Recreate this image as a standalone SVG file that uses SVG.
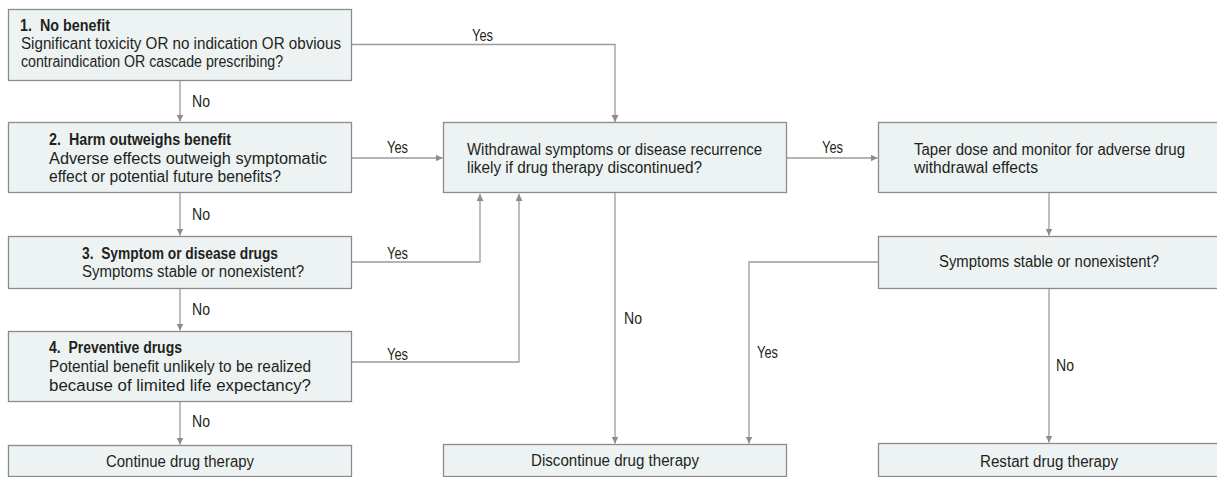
<svg xmlns="http://www.w3.org/2000/svg" width="1217" height="477" viewBox="0 0 1217 477">
<style>
.box{fill:#edf3f3;stroke:#8c8c8c;stroke-width:1.3}
.t{font-family:"Liberation Sans",Arial,sans-serif;font-size:16px;fill:#231f20}
.b{font-weight:bold}
.c{fill:none;stroke:#9b9b9b;stroke-width:1.3}
</style>
<defs>
<marker id="ah" markerUnits="userSpaceOnUse" markerWidth="8" markerHeight="8" refX="7" refY="3.5" orient="auto">
<path d="M0,0 L7,3.5 L0,7 Z" fill="#8c8c8c"/>
</marker>
</defs>
<rect width="1217" height="477" fill="#ffffff"/>
<g id="connectors">
<path class="c" d="M351.5,44.5 H615 V122" marker-end="url(#ah)"/>
<path class="c" d="M180,80.5 V121.5" marker-end="url(#ah)"/>
<path class="c" d="M351.5,158 H442.5" marker-end="url(#ah)"/>
<path class="c" d="M180,192.5 V235.5" marker-end="url(#ah)"/>
<path class="c" d="M351.5,262 H480 V194" marker-end="url(#ah)"/>
<path class="c" d="M180,288.5 V330.5" marker-end="url(#ah)"/>
<path class="c" d="M351.5,362 H519 V194" marker-end="url(#ah)"/>
<path class="c" d="M180,401.5 V444.5" marker-end="url(#ah)"/>
<path class="c" d="M786.5,158 H877.5" marker-end="url(#ah)"/>
<path class="c" d="M615,192.5 V443.5" marker-end="url(#ah)"/>
<path class="c" d="M1049,192.5 V235.5" marker-end="url(#ah)"/>
<path class="c" d="M878.5,262 H749 V443.5" marker-end="url(#ah)"/>
<path class="c" d="M1049,288.5 V442.5" marker-end="url(#ah)"/>
<text class="t" x="472" y="40.5" textLength="21" lengthAdjust="spacingAndGlyphs">Yes</text>
<text class="t" x="192" y="106.5" textLength="18" lengthAdjust="spacingAndGlyphs">No</text>
<text class="t" x="387" y="153" textLength="21" lengthAdjust="spacingAndGlyphs">Yes</text>
<text class="t" x="192" y="220" textLength="18" lengthAdjust="spacingAndGlyphs">No</text>
<text class="t" x="387" y="259" textLength="21" lengthAdjust="spacingAndGlyphs">Yes</text>
<text class="t" x="192" y="315" textLength="18" lengthAdjust="spacingAndGlyphs">No</text>
<text class="t" x="387" y="360" textLength="21" lengthAdjust="spacingAndGlyphs">Yes</text>
<text class="t" x="192" y="427" textLength="18" lengthAdjust="spacingAndGlyphs">No</text>
<text class="t" x="822" y="153" textLength="21" lengthAdjust="spacingAndGlyphs">Yes</text>
<text class="t" x="624" y="324" textLength="18" lengthAdjust="spacingAndGlyphs">No</text>
<text class="t" x="757" y="358" textLength="21" lengthAdjust="spacingAndGlyphs">Yes</text>
<text class="t" x="1056" y="371" textLength="18" lengthAdjust="spacingAndGlyphs">No</text>
</g>
<g id="node-1">
<rect class="box" x="8.5" y="9.5" width="343" height="71"/>
<text class="t b" x="20" y="30.5" textLength="90" lengthAdjust="spacingAndGlyphs" xml:space="preserve">1.  No benefit</text>
<text class="t" x="21" y="48.5" textLength="320" lengthAdjust="spacingAndGlyphs">Significant toxicity OR no indication OR obvious</text>
<text class="t" x="21" y="67" textLength="262" lengthAdjust="spacingAndGlyphs">contraindication OR cascade prescribing?</text>
</g>
<g id="node-2">
<rect class="box" x="8.5" y="122.5" width="343" height="70"/>
<text class="t b" x="49" y="145" textLength="182" lengthAdjust="spacingAndGlyphs" xml:space="preserve">2.  Harm outweighs benefit</text>
<text class="t" x="49" y="163.5" textLength="278" lengthAdjust="spacingAndGlyphs">Adverse effects outweigh symptomatic</text>
<text class="t" x="49" y="182" textLength="232" lengthAdjust="spacingAndGlyphs">effect or potential future benefits?</text>
</g>
<g id="node-3">
<rect class="box" x="8.5" y="236.5" width="343" height="52"/>
<text class="t b" x="82" y="258.5" textLength="196" lengthAdjust="spacingAndGlyphs" xml:space="preserve">3.  Symptom or disease drugs</text>
<text class="t" x="82" y="277" textLength="222" lengthAdjust="spacingAndGlyphs">Symptoms stable or nonexistent?</text>
</g>
<g id="node-4">
<rect class="box" x="8.5" y="331.5" width="343" height="70"/>
<text class="t b" x="49" y="352.5" textLength="133" lengthAdjust="spacingAndGlyphs" xml:space="preserve">4.  Preventive drugs</text>
<text class="t" x="49" y="372" textLength="262" lengthAdjust="spacingAndGlyphs">Potential benefit unlikely to be realized</text>
<text class="t" x="49" y="390.5" textLength="262" lengthAdjust="spacingAndGlyphs">because of limited life expectancy?</text>
</g>
<g id="node-continue">
<rect class="box" x="8.5" y="445.5" width="343" height="31"/>
<text class="t" x="106" y="466.5" textLength="148" lengthAdjust="spacingAndGlyphs">Continue drug therapy</text>
</g>
<g id="node-withdrawal">
<rect class="box" x="443.5" y="122.5" width="343" height="70"/>
<text class="t" x="467" y="155" textLength="295" lengthAdjust="spacingAndGlyphs">Withdrawal symptoms or disease recurrence</text>
<text class="t" x="467" y="173" textLength="235" lengthAdjust="spacingAndGlyphs">likely if drug therapy discontinued?</text>
</g>
<g id="node-discontinue">
<rect class="box" x="443.5" y="444.5" width="343" height="32"/>
<text class="t" x="531" y="465.5" textLength="168" lengthAdjust="spacingAndGlyphs">Discontinue drug therapy</text>
</g>
<g id="node-taper">
<rect class="box" x="878.5" y="122.5" width="345" height="70"/>
<text class="t" x="914" y="155" textLength="271" lengthAdjust="spacingAndGlyphs">Taper dose and monitor for adverse drug</text>
<text class="t" x="914" y="173" textLength="124" lengthAdjust="spacingAndGlyphs">withdrawal effects</text>
</g>
<g id="node-symptoms">
<rect class="box" x="878.5" y="236.5" width="345" height="52"/>
<text class="t" x="939" y="267" textLength="220" lengthAdjust="spacingAndGlyphs">Symptoms stable or nonexistent?</text>
</g>
<g id="node-restart">
<rect class="box" x="878.5" y="443.5" width="345" height="33"/>
<text class="t" x="980" y="466.5" textLength="138" lengthAdjust="spacingAndGlyphs">Restart drug therapy</text>
</g>
</svg>
